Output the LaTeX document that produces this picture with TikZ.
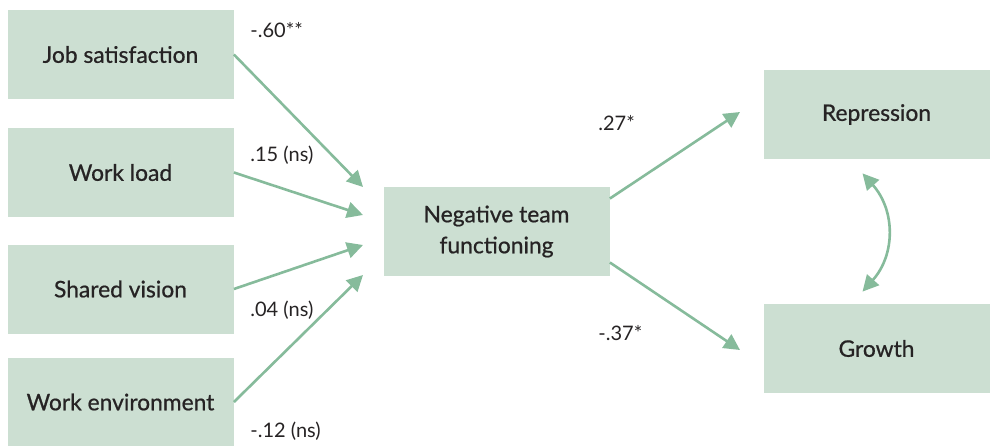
\documentclass[tikz,border=0pt]{standalone}
\usepackage{fontspec}
\setmainfont{Lato}
\newfontfamily\boxfont{Lato}[FakeBold=0.7]
\usetikzlibrary{arrows.meta,positioning,calc}
\definecolor{ink}{HTML}{262324}
\definecolor{sage}{HTML}{CCDFD2}
\definecolor{leaf}{HTML}{86BB9B}
\begin{document}
\begin{tikzpicture}[x=0.5pt,y=-0.5pt,
              box/.style={rectangle,fill=sage,text=ink,minimum width=113pt,minimum height=44.5pt,
                          inner sep=0,align=center,font=\boxfont\fontsize{11.4}{15.5}\selectfont},
              lab/.style={anchor=west,text=ink,inner sep=0,font=\fontsize{10}{12}\selectfont},
              arr/.style={leaf,line width=1.3pt,-{Triangle[length=8pt,width=8pt]}}]
              \useasboundingbox (0,0) rectangle (990,445);
              % predictors
              \node[box] (job) at (120.5,54.5) {Job satisfaction};
              \node[box] (load) at (120.5,172.5) {Work load};
              \node[box] (vis) at (120.5,289) {Shared vision};
              \node[box] (env) at (120.5,402) {Work environment};
              \node[box] (neg) at (496.5,231.5) {Negative team\\functioning};
              % outcomes
              \node[box] (rep) at (876.5,114.5) {Repression};
              \node[box] (gro) at (876.5,348.5) {Growth};
              \coordinate (t1) at (363,187);
              \coordinate (t2) at (363,215);
              \coordinate (t3) at (363,245);
              \coordinate (t4) at (363,275);
              \coordinate (tr) at (740,112);
              \coordinate (tg) at (740,350);
              \draw[arr] (job.east) -- (t1);
              \draw[arr] (load.east) -- (t2);
              \draw[arr] (vis.east) -- (t3);
              \draw[arr] (env.east) -- (t4);
              \draw[arr] ($(neg.east)+(0,-33)$) -- (tr);
              \draw[arr] ($(neg.east)+(0,31)$) -- (tg);
              \coordinate (ca) at ($(rep.south)+(-14,14)$);
              \coordinate (cb) at ($(gro.north)+(-14,-12)$);
              \draw[leaf,line width=1.3pt,{Triangle[length=8pt,width=8pt]}-{Triangle[length=8pt,width=8pt]}]
              (ca) .. controls ($(ca)+(33,37)$) and ($(cb)+(33,-37)$) .. (cb);
              % path values
              \node[lab] (l1) at (250,30) {-.60**};
              \node[lab] (l2) at (250,155) {.15 (ns)};
              \node[lab] (l3) at (250,310) {.04 (ns)};
              \node[lab] (l4) at (250,431) {-.12 (ns)};
              \node[lab] (l5) at (598,123) {.27*};
              \node[lab] (l6) at (598,333) {-.37*};
            \end{tikzpicture}
\end{document}
